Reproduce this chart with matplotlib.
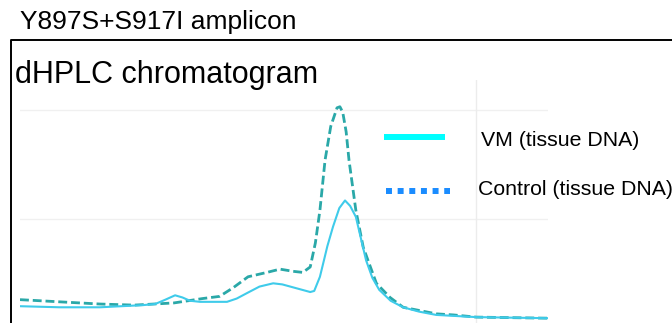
import matplotlib.pyplot as plt
from matplotlib.lines import Line2D

plt.rcParams['font.family'] = ['Liberation Sans', 'DejaVu Sans']

# retention time (arbitrary units) and signal (grid units)
t_vm = [0.0, 0.7, 1.4, 2.16, 2.37, 2.55, 2.72, 2.85, 2.98, 3.16, 3.4, 3.63, 3.8, 3.98,
        4.2, 4.44, 4.6, 4.74, 4.95, 5.09, 5.16, 5.26, 5.33, 5.39, 5.49, 5.6, 5.7,
        5.79, 5.89, 5.98, 6.07, 6.18, 6.3, 6.5, 6.72, 7.0, 7.3, 8.0, 8.6, 9.26]
y_vm = [0.20, 0.19, 0.19, 0.21, 0.22, 0.26, 0.30, 0.28, 0.25, 0.24, 0.24, 0.24, 0.27, 0.32,
        0.38, 0.41, 0.40, 0.38, 0.35, 0.33, 0.34, 0.47, 0.62, 0.75, 0.93, 1.10, 1.17,
        1.12, 1.02, 0.82, 0.62, 0.46, 0.35, 0.25, 0.19, 0.15, 0.12, 0.10, 0.095, 0.09]

t_ctrl = [0.0, 0.7, 1.4, 2.0, 2.7, 3.2, 3.5, 3.74, 4.0, 4.33, 4.56, 4.79, 4.96, 5.09,
          5.18, 5.26, 5.35, 5.45, 5.56, 5.61, 5.66, 5.72, 5.77, 5.89, 6.02, 6.25,
          6.49, 6.72, 7.3, 7.6, 8.0, 8.6, 9.26]
y_ctrl = [0.26, 0.24, 0.22, 0.21, 0.23, 0.27, 0.29, 0.37, 0.47, 0.51, 0.54, 0.52, 0.51, 0.56,
          0.78, 1.08, 1.54, 1.85, 2.02, 2.03, 1.98, 1.80, 1.54, 1.08, 0.74, 0.41,
          0.28, 0.19, 0.13, 0.12, 0.10, 0.095, 0.09]

labels = ['VM (tissue DNA)', 'Control (tissue DNA)']

fig = plt.figure(figsize=(6.72, 3.23), dpi=100)
W, H = 672, 323

ax = fig.add_axes([20 / W, 0, (548 - 20) / W, (323 - 80) / H])
ax.set_xlim(0, 9.26)
ax.set_ylim((328 - 323) / 109, (328 - 80) / 109)
for s in ax.spines.values():
    s.set_visible(False)
ax.set_xticks([])
ax.set_yticks([])
ax.axhline(1, color='#f0f0f0', lw=1, zorder=0)
ax.axhline(2, color='#f0f0f0', lw=1, zorder=0)
ax.axvline(8, color='#ececec', lw=1, zorder=0)

ax.plot(t_ctrl, y_ctrl, color='#2aa8a8', lw=2, ls=(0, (3.2, 1.4)))
ax.plot(t_vm, y_vm, color='#3fcbea', lw=1.5)

# frame box (top and left edges only visible)
fig.add_artist(Line2D([11 / W, 11 / W, 1.0], [0, 1 - 40 / H, 1 - 40 / H],
                      transform=fig.transFigure, color='black', lw=1.4))

fig.text(20 / W, 1 - 29 / H, 'Y897S+S917I amplicon', fontsize=19, va='baseline')
fig.text(15 / W, 1 - 83 / H, 'dHPLC chromatogram', fontsize=22, va='baseline')

# legend
fig.add_artist(Line2D([384 / W, 445 / W], [1 - 137 / H, 1 - 137 / H],
                      transform=fig.transFigure, color='#00ffff', lw=4.3,
                      solid_capstyle='butt'))
fig.add_artist(Line2D([386 / W, 450 / W], [1 - 191 / H, 1 - 191 / H],
                      transform=fig.transFigure, color='#1a8cff', lw=4.3,
                      ls=(0, (1, 0.95)), dash_capstyle='butt'))
fig.text(481 / W, 1 - 146 / H, labels[0], fontsize=15.3, va='baseline')
fig.text(478 / W, 1 - 195 / H, labels[1], fontsize=15.3, va='baseline')

fig.savefig('out.png', dpi=100)
